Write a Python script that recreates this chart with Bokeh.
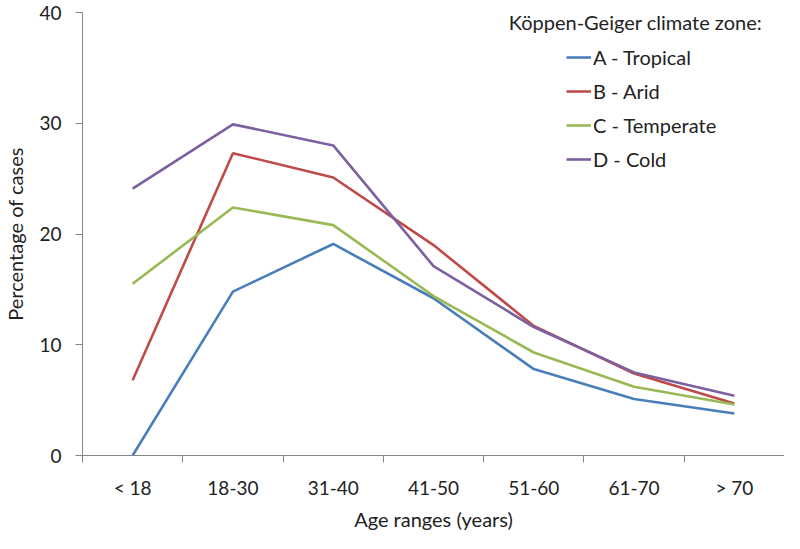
from bokeh.plotting import figure
from bokeh.models import FixedTicker, Range1d, Legend, LegendItem, Label
from bokeh.embed import file_html
from bokeh.resources import INLINE

categories = ["< 18", "18-30", "31-40", "41-50", "51-60", "61-70", "> 70"]
tropical = [0.0, 14.8, 19.1, 14.2, 7.8, 5.1, 3.8]
arid = [6.8, 27.3, 25.1, 19.0, 11.7, 7.4, 4.7]
temperate = [15.5, 22.4, 20.8, 14.4, 9.3, 6.2, 4.6]
cold = [24.1, 29.9, 28.0, 17.1, 11.6, 7.5, 5.4]
series_names = ["A - Tropical", "B - Arid", "C - Temperate", "D - Cold"]
colors = ["#4A7EBB", "#BE4B48", "#98B954", "#7D60A0"]
y_ticks = [0, 10, 20, 30, 40]
legend_title = "Köppen-Geiger climate zone:"

FONT = "Lato"
AXIS_COLOR = "#868686"
TEXT_COLOR = "#222222"

x_pos = [i + 0.5 for i in range(len(categories))]

p = figure(width=784, height=533, output_backend="svg", toolbar_location=None,
           x_range=Range1d(0, len(categories)), y_range=Range1d(0, 40),
           min_border_left=81, min_border_right=0, min_border_top=12, min_border_bottom=78)
p.outline_line_color = None
p.grid.visible = False

# x axis: labels centered, ticks at category boundaries
p.xaxis.ticker = FixedTicker(ticks=x_pos, minor_ticks=list(range(len(categories) + 1)))
p.xaxis.major_label_overrides = {x: c for x, c in zip(x_pos, categories)}
p.xaxis.major_tick_out = 0
p.xaxis.major_tick_in = 0
p.xaxis.minor_tick_out = 7
p.xaxis.minor_tick_in = 0
p.xaxis.minor_tick_line_color = AXIS_COLOR
p.xaxis.axis_label = "Age ranges (years)"
p.xaxis.major_label_standoff = 13
p.xaxis.axis_label_standoff = 5

p.yaxis.ticker = FixedTicker(ticks=y_ticks)
p.yaxis.major_tick_out = 7
p.yaxis.major_tick_in = 0
p.yaxis.minor_tick_line_color = None
p.yaxis.axis_label = "Percentage of cases"
p.yaxis.major_label_standoff = 14
p.yaxis.axis_label_standoff = 9

for ax in (p.xaxis, p.yaxis):
    ax.axis_line_color = AXIS_COLOR
    ax.major_tick_line_color = AXIS_COLOR
    ax.major_label_text_font = FONT
    ax.major_label_text_font_size = "19px"
    ax.major_label_text_line_height = 1.0
    ax.major_label_text_color = TEXT_COLOR
    ax.axis_label_text_font = FONT
    ax.axis_label_text_font_size = "20px"
    ax.axis_label_text_line_height = 1.0
    ax.axis_label_text_font_style = "normal"
    ax.axis_label_text_color = TEXT_COLOR

items = []
for name, vals, col in zip(series_names, [tropical, arid, temperate, cold], colors):
    r = p.line(x_pos, vals, line_color=col, line_width=2.6)
    items.append(LegendItem(label=name, renderers=[r]))

legend = Legend(items=items, location=(484, 284), border_line_color=None,
                background_fill_alpha=0, padding=0, margin=0,
                glyph_width=25, glyph_height=20, label_height=20, spacing=10,
                label_standoff=2, label_text_font=FONT, label_text_font_size="20px",
                label_text_line_height=1.0, label_text_color=TEXT_COLOR)
p.add_layout(legend)

p.add_layout(Label(x=4.25, y=39.1, text=legend_title,
                   text_font=FONT, text_font_size="20px", text_color=TEXT_COLOR,
                   text_baseline="middle", text_align="left"))

open("out.html", "w").write(file_html(p, INLINE))
